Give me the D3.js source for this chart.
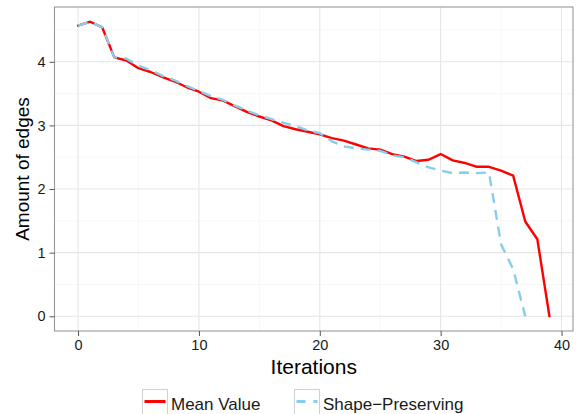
<!DOCTYPE html>
<html>
<head>
<meta charset="utf-8">
<script src="https://cdn.jsdelivr.net/npm/d3@7"></script>
<style>
	body { margin: 0; background: #fff; }
	text { font-family: "Liberation Sans", Arial, sans-serif; }
</style>
</head>
<body>
<div id="viz"></div>
<script>
// iterations 0..39
const iterations = d3.range(0, 40);

const meanValue = [
	4.57, 4.63, 4.54, 4.07, 4.02, 3.90, 3.84, 3.76, 3.69, 3.60,
	3.53, 3.43, 3.39, 3.30, 3.21, 3.14, 3.08, 2.99, 2.94, 2.90,
	2.86, 2.80, 2.76, 2.70, 2.64, 2.62, 2.55, 2.51, 2.44, 2.46,
	2.55, 2.45, 2.41, 2.35, 2.35, 2.29, 2.21, 1.49, 1.21, 0.0
];

// shape preserving stops at iteration 37
const shapePreserving = [
	4.57, 4.63, 4.54, 4.07, 4.05, 3.94, 3.87, 3.78, 3.71, 3.62,
	3.54, 3.46, 3.40, 3.31, 3.23, 3.16, 3.10, 3.04, 2.99, 2.92,
	2.88, 2.75, 2.67, 2.64, 2.62, 2.60, 2.53, 2.50, 2.42, 2.34,
	2.29, 2.25, 2.26, 2.25, 2.26, 1.13, 0.74, 0.0
];

const xTicks = [0, 10, 20, 30, 40];
const xMinor = [5, 15, 25, 35];
const yTicks = [0, 1, 2, 3, 4];
const yMinor = [0.5, 1.5, 2.5, 3.5, 4.5];

const seriesNames = ["Mean Value", "Shape\u2212Preserving"];
const seriesColors = ["#ff0000", "#87ceeb"];
const seriesDash = [null, "10,7"];

const W = 576, H = 414;
const margin = { top: 7, right: 3, bottom: 83, left: 54.5 };

const svg = d3.select("#viz").append("svg")
	.attr("width", W)
	.attr("height", H);

// ggplot style 5% expansion
const xExt = d3.extent(iterations);
const xPad = (xExt[1] - xExt[0]) * 0.05;
const yExt = d3.extent(meanValue.concat(shapePreserving));
const yPad = (yExt[1] - yExt[0]) * 0.05;

const x = d3.scaleLinear()
	.domain([xExt[0] - xPad, xExt[1] + xPad])
	.range([margin.left, W - margin.right]);
const y = d3.scaleLinear()
	.domain([yExt[0] - yPad, yExt[1] + yPad])
	.range([H - margin.bottom, margin.top]);

const [x0, x1] = x.range();
const [y0, y1] = y.range();

// minor grid
svg.append("g").selectAll("line").data(xMinor).join("line")
	.attr("x1", d => x(d)).attr("x2", d => x(d))
	.attr("y1", y0).attr("y2", y1)
	.attr("stroke", "#f7f7f7").attr("stroke-width", 1);
svg.append("g").selectAll("line").data(yMinor).join("line")
	.attr("x1", x0).attr("x2", x1)
	.attr("y1", d => y(d)).attr("y2", d => y(d))
	.attr("stroke", "#f7f7f7").attr("stroke-width", 1);

// major grid
svg.append("g").selectAll("line").data(xTicks).join("line")
	.attr("x1", d => x(d)).attr("x2", d => x(d))
	.attr("y1", y0).attr("y2", y1)
	.attr("stroke", "#e5e5e5").attr("stroke-width", 1.1);
svg.append("g").selectAll("line").data(yTicks).join("line")
	.attr("x1", x0).attr("x2", x1)
	.attr("y1", d => y(d)).attr("y2", d => y(d))
	.attr("stroke", "#e5e5e5").attr("stroke-width", 1.1);

// lines
const line = d3.line()
	.x((d, i) => x(iterations[i]))
	.y(d => y(d));

[meanValue, shapePreserving].forEach((vals, k) => {
	svg.append("path")
		.datum(vals)
		.attr("fill", "none")
		.attr("stroke", seriesColors[k])
		.attr("stroke-width", 2.4)
		.attr("stroke-linejoin", "round")
		.attr("stroke-linecap", k ? "butt" : "round")
		.attr("stroke-dasharray", seriesDash[k])
		.attr("d", line);
});

// panel border
svg.append("rect")
	.attr("x", x0).attr("y", y1)
	.attr("width", x1 - x0).attr("height", y0 - y1)
	.attr("fill", "none")
	.attr("stroke", "#999")
	.attr("stroke-width", 1.1);

// axes
const xAxis = svg.append("g")
	.attr("transform", `translate(0,${y0})`)
	.call(d3.axisBottom(x).tickValues(xTicks).tickFormat(d3.format("d"))
		.tickSize(5).tickPadding(4).tickSizeOuter(0));
const yAxis = svg.append("g")
	.attr("transform", `translate(${x0},0)`)
	.call(d3.axisLeft(y).tickValues(yTicks).tickFormat(d3.format("d"))
		.tickSize(5).tickPadding(4).tickSizeOuter(0));

[xAxis, yAxis].forEach((g) => {
	g.attr("font-size", null).attr("font-family", null);
	g.select(".domain").remove();
	g.selectAll(".tick line").attr("stroke", "#555").attr("stroke-width", 1);
	g.selectAll(".tick text")
		.attr("fill", "#1a1a1a")
		.style("font-size", "14.5px");
});

// axis titles
svg.append("text")
	.attr("x", (x0 + x1) / 2)
	.attr("y", 373.5)
	.attr("text-anchor", "middle")
	.style("font-size", "21px")
	.text("Iterations");

svg.append("text")
	.attr("transform", "rotate(-90)")
	.attr("x", -(y0 + y1) / 2)
	.attr("y", 28.5)
	.attr("text-anchor", "middle")
	.style("font-size", "19px")
	.text("Amount of edges");

// legend
const legendX = [142.5, 294.5];
const legend = svg.append("g").selectAll("g")
	.data(seriesNames)
	.join("g")
	.attr("transform", (d, i) => `translate(${legendX[i]},389.5)`);

legend.append("rect")
	.attr("width", 25).attr("height", 26)
	.attr("fill", "#fff")
	.attr("stroke", "#d0d0d0")
	.attr("stroke-width", 1);

legend.append("line")
	.attr("x1", 2).attr("x2", 23)
	.attr("y1", 12).attr("y2", 12)
	.attr("stroke", (d, i) => seriesColors[i])
	.attr("stroke-width", 3)
	.attr("stroke-dasharray", (d, i) => seriesDash[i] ? "9,8" : null);

legend.append("text")
	.attr("x", 28.5)
	.attr("y", 20)
	.style("font-size", "17px")
	.attr("fill", "#1a1a1a")
	.text(d => d);
</script>
</body>
</html>
